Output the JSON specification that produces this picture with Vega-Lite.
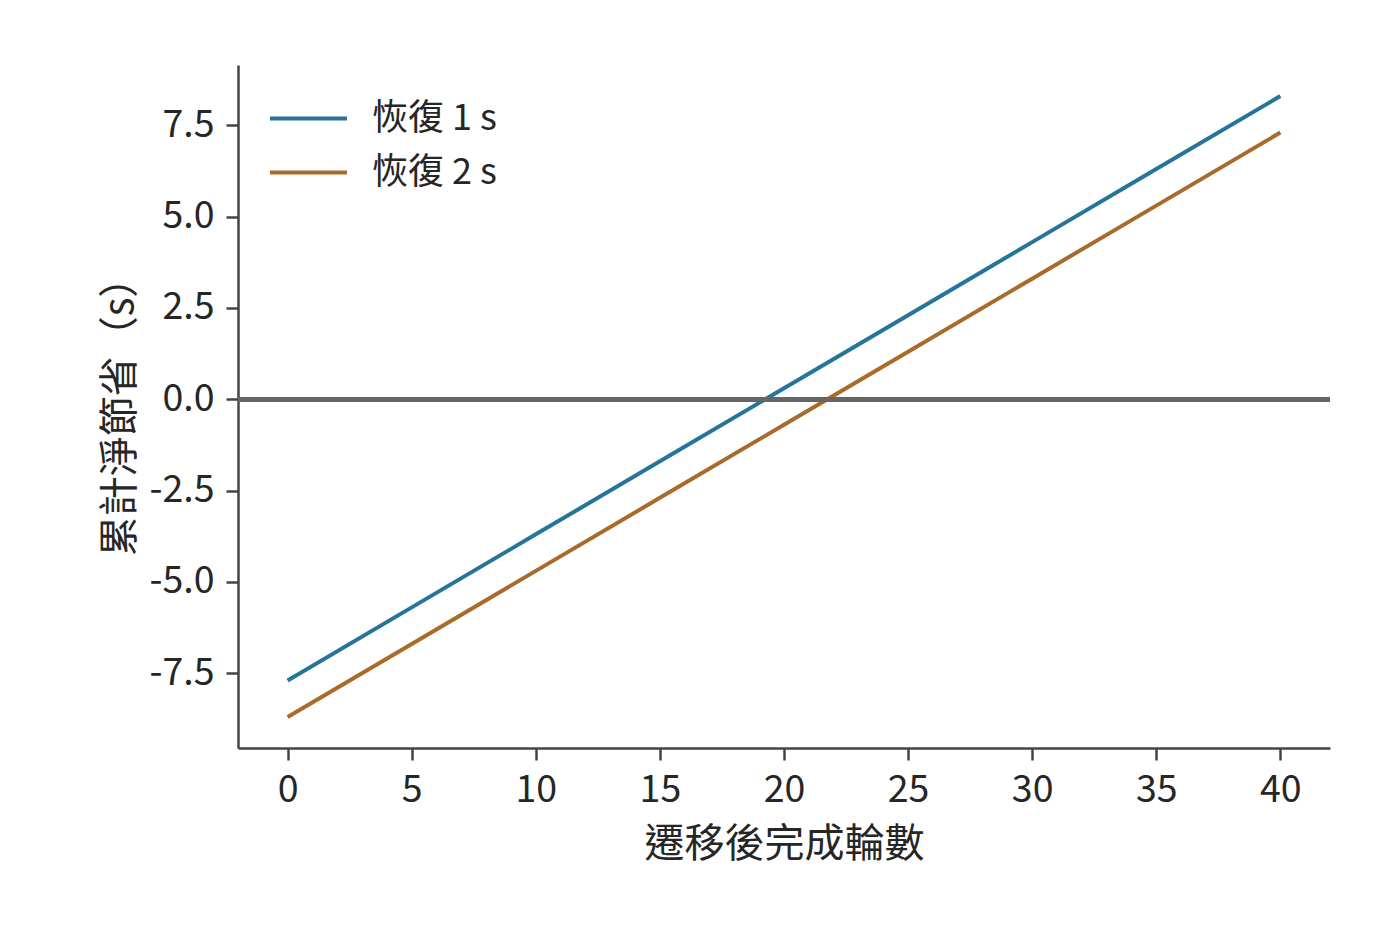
{
  "$schema": "https://vega.github.io/schema/vega-lite/v6.json",
  "width": 1092,
  "height": 683,
  "autosize": {"type": "none"},
  "padding": {"left": 238, "top": 65, "right": 70, "bottom": 188},
  "background": "white",
  "data": {
    "values": [
      {"round": 0, "savings": -7.7, "series": "恢復 1 s"},
      {"round": 5, "savings": -5.7, "series": "恢復 1 s"},
      {"round": 10, "savings": -3.7, "series": "恢復 1 s"},
      {"round": 15, "savings": -1.7, "series": "恢復 1 s"},
      {"round": 20, "savings": 0.3, "series": "恢復 1 s"},
      {"round": 25, "savings": 2.3, "series": "恢復 1 s"},
      {"round": 30, "savings": 4.3, "series": "恢復 1 s"},
      {"round": 35, "savings": 6.3, "series": "恢復 1 s"},
      {"round": 40, "savings": 8.3, "series": "恢復 1 s"},
      {"round": 0, "savings": -8.7, "series": "恢復 2 s"},
      {"round": 5, "savings": -6.7, "series": "恢復 2 s"},
      {"round": 10, "savings": -4.7, "series": "恢復 2 s"},
      {"round": 15, "savings": -2.7, "series": "恢復 2 s"},
      {"round": 20, "savings": -0.7, "series": "恢復 2 s"},
      {"round": 25, "savings": 1.3, "series": "恢復 2 s"},
      {"round": 30, "savings": 3.3, "series": "恢復 2 s"},
      {"round": 35, "savings": 5.3, "series": "恢復 2 s"},
      {"round": 40, "savings": 7.3, "series": "恢復 2 s"}
    ]
  },
  "layer": [
    {
      "mark": {"type": "line", "strokeWidth": 4, "strokeCap": "butt"},
      "encoding": {
        "x": {
          "field": "round",
          "type": "quantitative",
          "title": "遷移後完成輪數",
          "scale": {"domain": [-2, 42], "nice": false, "zero": false},
          "axis": {"values": [0, 5, 10, 15, 20, 25, 30, 35, 40], "titlePadding": 16, "labelPadding": 11}
        },
        "y": {
          "field": "savings",
          "type": "quantitative",
          "title": "累計淨節省（s）",
          "scale": {"domain": [-9.55, 9.15], "nice": false, "zero": false},
          "axis": {
            "values": [-7.5, -5, -2.5, 0, 2.5, 5, 7.5],
            "labelExpr": "replace(format(datum.value, '.1f'), '−', '-')",
            "labelPadding": 12,
            "titlePadding": 8
          }
        },
        "color": {
          "field": "series",
          "type": "nominal",
          "scale": {"domain": ["恢復 1 s", "恢復 2 s"], "range": ["#25759a", "#a86b2a"]},
          "legend": {
            "title": null,
            "orient": "none",
            "legendX": 30,
            "legendY": 28,
            "symbolType": "stroke",
            "symbolSize": 5929,
            "symbolStrokeWidth": 4,
            "labelFontSize": 36,
            "labelFont": "Noto Sans CJK TC",
            "labelColor": "#262626",
            "labelOffset": 23,
            "labelLimit": 300,
            "rowPadding": 3,
            "clipHeight": 51
          }
        }
      }
    },
    {
      "mark": {"type": "rule", "color": "#666666", "strokeWidth": 4},
      "encoding": {"y": {"datum": 0}}
    }
  ],
  "config": {
    "view": {"stroke": null},
    "font": "Noto Sans CJK TC",
    "axis": {
      "grid": false,
      "domainColor": "#444444",
      "domainWidth": 2.5,
      "tickColor": "#444444",
      "tickWidth": 2.5,
      "tickSize": 12,
      "labelFont": "Noto Sans CJK TC",
      "labelFontSize": 37.5,
      "labelColor": "#262626",
      "titleFont": "Noto Sans CJK TC",
      "titleFontSize": 40,
      "titleFontWeight": "normal",
      "titleColor": "#262626"
    }
  }
}
